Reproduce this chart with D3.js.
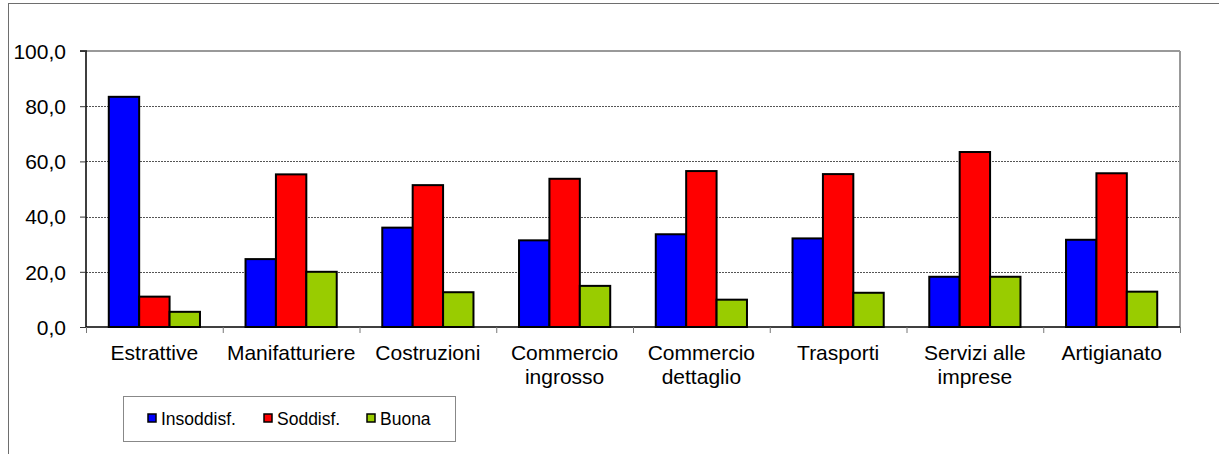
<!DOCTYPE html>
<html><head><meta charset="utf-8">
<script src="https://cdn.jsdelivr.net/npm/d3@7"></script>
<style>body{margin:0;background:#fff;}svg{display:block;font-family:"Liberation Sans",Arial,sans-serif;}</style>
</head><body><svg id="c" width="1219" height="454"></svg>
<script>
const categories = [["Estrattive"],["Manifatturiere"],["Costruzioni"],["Commercio","ingrosso"],["Commercio","dettaglio"],["Trasporti"],["Servizi alle","imprese"],["Artigianato"]];
const seriesNames = ["Insoddisf.","Soddisf.","Buona"];
const seriesColors = ["#0000FF","#FF0000","#99CC00"];
const insoddisf = [83.4,24.6,36.0,31.4,33.6,32.1,18.2,31.6];
const soddisf   = [11.0,55.3,51.4,53.7,56.5,55.4,63.4,55.7];
const buona     = [5.5,20.0,12.6,14.9,9.9,12.4,18.2,12.8];
const yTicks = [0,20,40,60,80,100];

const series = [insoddisf, soddisf, buona];
const svg = d3.select("#c");
const L=86, R=1180, T=51, B=327;

// outer frame
svg.append("rect").attr("x",8.5).attr("y",3.5).attr("width",1300).attr("height",600)
  .attr("fill","none").attr("stroke","#6e6e6e").attr("stroke-width",1);

const x0 = d3.scaleBand().domain(d3.range(categories.length)).range([L,R]).paddingInner(0).paddingOuter(0);
const inner = 30.4;
const y = d3.scaleLinear().domain([0,100]).range([B,T]);

// gridlines
svg.append("g").selectAll("line").data(yTicks.filter(d=>d>0 && d<100)).join("line")
  .attr("x1",L).attr("x2",R).attr("y1",d=>Math.round(y(d))+0.5).attr("y2",d=>Math.round(y(d))+0.5)
  .attr("stroke","#555").attr("stroke-width",1).attr("stroke-dasharray","2,1");

// plot area border top/right
svg.append("line").attr("x1",L).attr("x2",R).attr("y1",T).attr("y2",T).attr("stroke","#999").attr("stroke-width",2);
svg.append("line").attr("x1",R).attr("x2",R).attr("y1",T).attr("y2",B).attr("stroke","#999").attr("stroke-width",2);

// bars
const groups = svg.append("g").selectAll("g").data(categories.map((c,i)=>i)).join("g");
groups.selectAll("rect").data(i=>series.map((s,k)=>({i,k,v:s[i]}))).join("rect")
  .attr("x",d=>x0(d.i)+(x0.bandwidth()-3*inner)/2 + d.k*inner)
  .attr("width",inner)
  .attr("y",d=>y(d.v)).attr("height",d=>B-y(d.v))
  .attr("fill",d=>seriesColors[d.k]).attr("stroke","#000").attr("stroke-width",2);

// y axis
const yAxis = d3.axisLeft(y).tickValues(yTicks).tickSize(6).tickFormat(d=>d3.format(".1f")(d).replace(".",","));
const ga = svg.append("g").attr("transform",`translate(${L},0)`).call(yAxis);
ga.attr("font-size",null).attr("font-family",null);
ga.select(".domain").attr("stroke","#000").attr("stroke-width",1.5).attr("d",`M-6,${T}H0V${B}`);
ga.selectAll(".tick line").attr("stroke","#333");
ga.selectAll("text").style("font-size","21px").attr("fill","#000").attr("x",-20).attr("dy","0.35em");

// x axis
const xAxis = d3.axisBottom(d3.scaleLinear().domain([0,categories.length]).range([L,R]))
  .tickValues(d3.range(categories.length+1)).tickSize(6).tickFormat("");
const gx = svg.append("g").attr("transform",`translate(0,${B})`).call(xAxis);
gx.select(".domain").attr("stroke","#000").attr("stroke-width",1.5).attr("d",`M${L},0H${R}`);
gx.selectAll(".tick line").attr("stroke","#777");

// category labels
const lab = svg.append("g").selectAll("text").data(categories.map((c,i)=>({c,i}))).join("text")
  .attr("x",d=>x0(d.i)+x0.bandwidth()/2).attr("y",360).attr("text-anchor","middle")
  .style("font-size","21px").attr("fill","#000");
lab.selectAll("tspan").data(d=>d.c.map((t,j)=>({t,j,x:x0(d.i)+x0.bandwidth()/2}))).join("tspan")
  .attr("x",d=>d.x).attr("dy",d=>d.j===0?0:23.5).text(d=>d.t);

// legend
const lg = svg.append("g");
lg.append("rect").attr("x",123.5).attr("y",396.5).attr("width",332).attr("height",45)
  .attr("fill","#fff").attr("stroke","#888").attr("stroke-width",1);
const lx = [148,264,367];
const li = lg.selectAll("g").data(seriesNames.map((n,k)=>({n,k}))).join("g")
  .attr("transform",d=>`translate(${lx[d.k]},0)`);
li.append("rect").attr("x",0).attr("y",414).attr("width",8).attr("height",8)
  .attr("fill",d=>seriesColors[d.k]).attr("stroke","#000").attr("stroke-width",1.5);
li.append("text").attr("x",13).attr("y",425).style("font-size","17.5px").attr("fill","#000").text(d=>d.n);
</script></body></html>
